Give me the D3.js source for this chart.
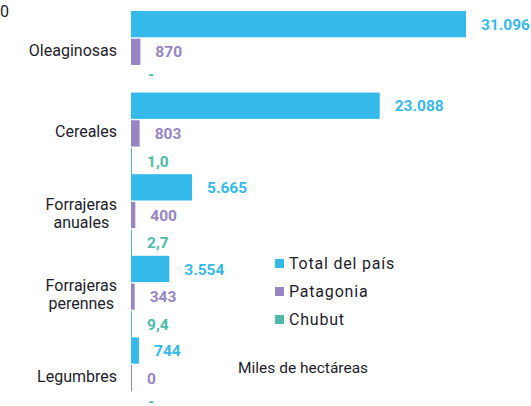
<!DOCTYPE html>
<html>
<head>
<meta charset="utf-8">
<script src="https://cdn.jsdelivr.net/npm/d3@7"></script>
<style>
  body { margin: 0; background: #fff; }
  svg { display: block; font-family: Roboto, sans-serif; }
</style>
</head>
<body>
<svg id="chart" width="531" height="406"></svg>
<script>
const categories = ['Oleaginosas', 'Cereales', 'Forrajeras\nanuales', 'Forrajeras\nperennes', 'Legumbres']
const seriesNames = ['Total del país', 'Patagonia', 'Chubut']
const totalPais = [31096, 23088, 5665, 3554, 744]
const patagonia = [870, 803, 400, 343, 0]
const chubut = [null, 1.0, 2.7, 9.4, null]
const axisTicks = ['0']
const unitLabel = 'Miles de hectáreas'

const colors = ['#35b9ea', '#9784c3', '#4fbaa9']
const seriesValues = [totalPais, patagonia, chubut]

const es = d3.formatLocale({ decimal: ',', thousands: '.', grouping: [3], currency: ['$', ''] })
const fmts = [es.format(',d'), es.format(',d'), es.format(',.1f')]

const svg = d3.select('#chart')

const xScale = d3.scaleLinear().domain([0, 31096]).range([131, 466])
const y0 = d3.scaleBand().domain(categories).range([11, 11 + 81.6 * categories.length]).paddingInner(0)
const y1 = d3.scaleBand().domain(seriesNames).range([0, y0.bandwidth()]).paddingInner(0.05)

const rows = []
categories.forEach((c, i) => {
  seriesNames.forEach((s, j) => {
    rows.push({ cat: c, series: s, j: j, value: seriesValues[j][i] })
  })
})

const groups = svg.append('g')

groups.selectAll('rect').data(rows.filter(d => d.value !== null)).enter()
  .append('rect')
  .attr('x', xScale(0))
  .attr('y', d => y0(d.cat) + y1(d.series))
  .attr('width', d => Math.max(1, xScale(d.value) - xScale(0)))
  .attr('height', y1.bandwidth())
  .style('fill', d => colors[d.j])

// "-" marks a missing value, it sits a bit higher than the digits
groups.selectAll('text.val').data(rows).enter()
  .append('text')
  .attr('class', 'val')
  .attr('x', d => (d.value === null ? xScale(0) + 2 : xScale(0) + Math.max(1, xScale(d.value) - xScale(0))) + 15)
  .attr('y', d => y0(d.cat) + y1(d.series) + y1.bandwidth() / 2)
  .attr('dy', d => d.value === null ? '0.05em' : '0.36em')
  .style('font-size', '15.5px')
  .style('font-weight', 'bold')
  .style('fill', d => colors[d.j])
  .text(d => d.value === null ? '-' : fmts[d.j](d.value))

// category labels: block right-aligned, lines centred inside the block
const catG = svg.append('g')
categories.forEach(c => {
  const lines = c.split('\n')
  const cy = y0(c) + y1('Patagonia') + y1.bandwidth() / 2 - 2
  const t = catG.append('text')
    .style('font-size', '16px')
    .style('fill', '#1d1d2b')
    .attr('text-anchor', 'middle')
  lines.forEach((l, k) => {
    t.append('tspan')
      .attr('y', cy + (k - (lines.length - 1) / 2) * 18)
      .attr('dy', '0.36em')
      .text(l)
  })
  let w = 0
  t.selectAll('tspan').each(function () { w = Math.max(w, this.getComputedTextLength()) })
  t.selectAll('tspan').attr('x', 117 - w / 2)
})

svg.append('text')
  .attr('x', 0)
  .attr('y', 17)
  .style('font-size', '16px')
  .style('fill', '#1d1d2b')
  .text(axisTicks[0])

const legend = svg.append('g').attr('transform', 'translate(275, 259)')
seriesNames.forEach((s, i) => {
  legend.append('rect')
    .attr('x', 0)
    .attr('y', i * 28)
    .attr('width', 9)
    .attr('height', 9)
    .style('fill', colors[i])
  legend.append('text')
    .attr('x', 14)
    .attr('y', i * 28 + 4.5)
    .attr('dy', '0.36em')
    .style('font-size', '16px')
    .style('letter-spacing', '0.8px')
    .style('fill', '#1d1d2b')
    .text(s)
})

svg.append('text')
  .attr('x', 238)
  .attr('y', 373)
  .style('font-size', '15.5px')
  .style('fill', '#1d1d2b')
  .text(unitLabel)
</script>
</body>
</html>
